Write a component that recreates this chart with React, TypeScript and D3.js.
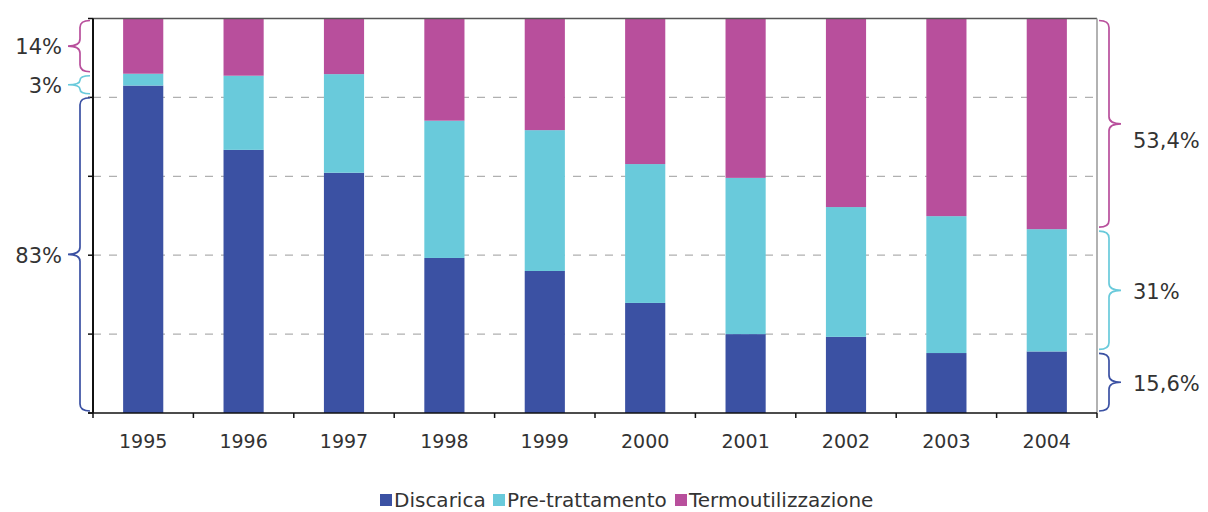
import React from "react";
import * as d3 from "d3";

// Share of waste by treatment, 1995–2004 (percent of total)
const years = ["1995", "1996", "1997", "1998", "1999", "2000", "2001", "2002", "2003", "2004"];
const discarica = [83, 66.7, 60.9, 39.3, 36.0, 27.9, 20.0, 19.3, 15.2, 15.6];
const pretrattamento = [3, 18.8, 25.0, 34.8, 35.7, 35.2, 39.6, 32.9, 34.7, 31];
const termoutilizzazione = [14, 14.5, 14.1, 25.9, 28.3, 36.9, 40.4, 47.8, 50.1, 53.4];
const seriesNames = ["Discarica", "Pre-trattamento", "Termoutilizzazione"];
const gridTicks = [0, 20, 40, 60, 80, 100];

const COLORS = ["#3b51a3", "#69cadb", "#b84f9c"];
const FONT = "'DejaVu Sans', Verdana, sans-serif";
const TEXT = "#333";

const W = 1208;
const H = 512;
const PL = 93;
const PR = 1097;
const PT = 18.5;
const PB = 413;

const rows = years.map((year, i) => ({
  year,
  Discarica: discarica[i],
  "Pre-trattamento": pretrattamento[i],
  Termoutilizzazione: termoutilizzazione[i],
}));

const fmt = (v: number) => String(v).replace(".", ",") + "%";

// Curly brace along a vertical span; dir = -1 points left, +1 points right
function bracePath(x: number, y0: number, y1: number, dir: number, depth = 12, curl = 10) {
  const tipY = (y0 + y1) / 2;
  const r = Math.min(7, (y1 - y0) / 4);
  const xe = x - dir * curl;
  const xt = x + dir * depth;
  return [
    `M${xe},${y0}`,
    `Q${x},${y0} ${x},${y0 + r}`,
    `L${x},${tipY - r}`,
    `Q${x},${tipY} ${xt},${tipY}`,
    `Q${x},${tipY} ${x},${tipY + r}`,
    `L${x},${y1 - r}`,
    `Q${x},${y1} ${xe},${y1}`,
  ].join(" ");
}

// Lay brace spans top-down over a column's segments, giving thin segments a minimum height
function braceSpans(segs: { top: number; bottom: number }[], minH: number) {
  const out: { y0: number; y1: number }[] = [];
  let cursor = segs[0].top;
  segs.forEach((s, i) => {
    const start = Math.max(cursor, s.top);
    let end = Math.max(s.bottom, start + minH);
    if (i === segs.length - 1) end = s.bottom;
    out.push({ y0: start + 2, y1: end - 2 });
    cursor = end;
  });
  return out;
}

export default function App() {
  const x = d3
    .scaleBand<string>()
    .domain(years)
    .range([PL, PR])
    .paddingInner(0.6)
    .paddingOuter(0.3);
  const y = d3.scaleLinear().domain([0, 100]).range([PB, PT]);

  const stacked = d3.stack<any>().keys(seriesNames)(rows);

  const step = x.step();
  const boundaries = d3.range(years.length + 1).map((i) => PL + i * step);

  // Brace annotations on the first and last columns (top-down order)
  const annot = (idx: number) => {
    const order = [2, 1, 0];
    const segs = order.map((k) => ({ top: y(stacked[k][idx][1]), bottom: y(stacked[k][idx][0]) }));
    const spans = braceSpans(segs, 22);
    return order.map((k, j) => ({
      ...spans[j],
      color: COLORS[k],
      label: fmt((rows[idx] as any)[seriesNames[k]]),
    }));
  };
  const leftBraces = annot(0);
  const rightBraces = annot(years.length - 1);

  const legendBox = [380, 493, 675];

  return (
    <svg width={W} height={H} style={{ display: "block", position: "absolute", left: 0, top: 0 }}>
      <rect width={W} height={H} fill="#fff" />

      {/* dashed gridlines */}
      {gridTicks.slice(1, -1).map((t) => (
        <line
          key={t}
          x1={PL}
          x2={PR}
          y1={y(t)}
          y2={y(t)}
          stroke="#b0b0b0"
          strokeWidth={1.3}
          strokeDasharray="8,8"
        />
      ))}

      {/* stacked bars */}
      {stacked.map((s, k) => (
        <g key={s.key} fill={COLORS[k]}>
          {s.map((d: any) => (
            <rect
              key={d.data.year}
              x={x(d.data.year)}
              y={y(d[1])}
              width={x.bandwidth()}
              height={y(d[0]) - y(d[1])}
            />
          ))}
        </g>
      ))}

      {/* frame */}
      <line x1={PL} x2={PR} y1={PT} y2={PT} stroke="#555" strokeWidth={1.5} />
      <line x1={PR} x2={PR} y1={PT} y2={PB} stroke="#999" strokeWidth={1.5} />
      <line x1={PL} x2={PL} y1={PT} y2={PB} stroke="#111" strokeWidth={2} />
      <line x1={PL - 5} x2={PR} y1={PB} y2={PB} stroke="#111" strokeWidth={1.5} />
      {gridTicks.map((t) => (
        <line key={t} x1={PL - 5} x2={PL} y1={y(t)} y2={y(t)} stroke="#111" strokeWidth={1.5} />
      ))}
      {boundaries.map((bx, i) => (
        <line key={i} x1={bx} x2={bx} y1={PB} y2={PB + 5} stroke="#111" strokeWidth={1.5} />
      ))}

      {/* year labels */}
      {years.map((yr) => (
        <text
          key={yr}
          x={(x(yr) as number) + x.bandwidth() / 2}
          y={448}
          textAnchor="middle"
          fontFamily={FONT}
          fontSize={19}
          fill={TEXT}
        >
          {yr}
        </text>
      ))}

      {/* left braces */}
      {leftBraces.map((b, i) => (
        <g key={"l" + i}>
          <path d={bracePath(80, b.y0, b.y1, -1)} fill="none" stroke={b.color} strokeWidth={1.7} />
          <text
            x={62}
            y={(b.y0 + b.y1) / 2 + 1}
            dy="0.35em"
            textAnchor="end"
            fontFamily={FONT}
            fontSize={21}
            fill={TEXT}
          >
            {b.label}
          </text>
        </g>
      ))}

      {/* right braces */}
      {rightBraces.map((b, i) => (
        <g key={"r" + i}>
          <path d={bracePath(1109, b.y0, b.y1, 1)} fill="none" stroke={b.color} strokeWidth={1.7} />
          <text
            x={1133}
            y={(b.y0 + b.y1) / 2 + (i === 0 ? 17 : 1)}
            dy="0.35em"
            textAnchor="start"
            fontFamily={FONT}
            fontSize={21}
            fill={TEXT}
          >
            {b.label}
          </text>
        </g>
      ))}

      {/* legend */}
      {seriesNames.map((name, k) => (
        <g key={name} transform={`translate(${legendBox[k]},${500})`}>
          <rect x={0} y={-6} width={12} height={12} fill={COLORS[k]} />
          <text x={14} y={0} dy="0.35em" fontFamily={FONT} fontSize={20} fill={TEXT}>
            {name}
          </text>
        </g>
      ))}
    </svg>
  );
}
